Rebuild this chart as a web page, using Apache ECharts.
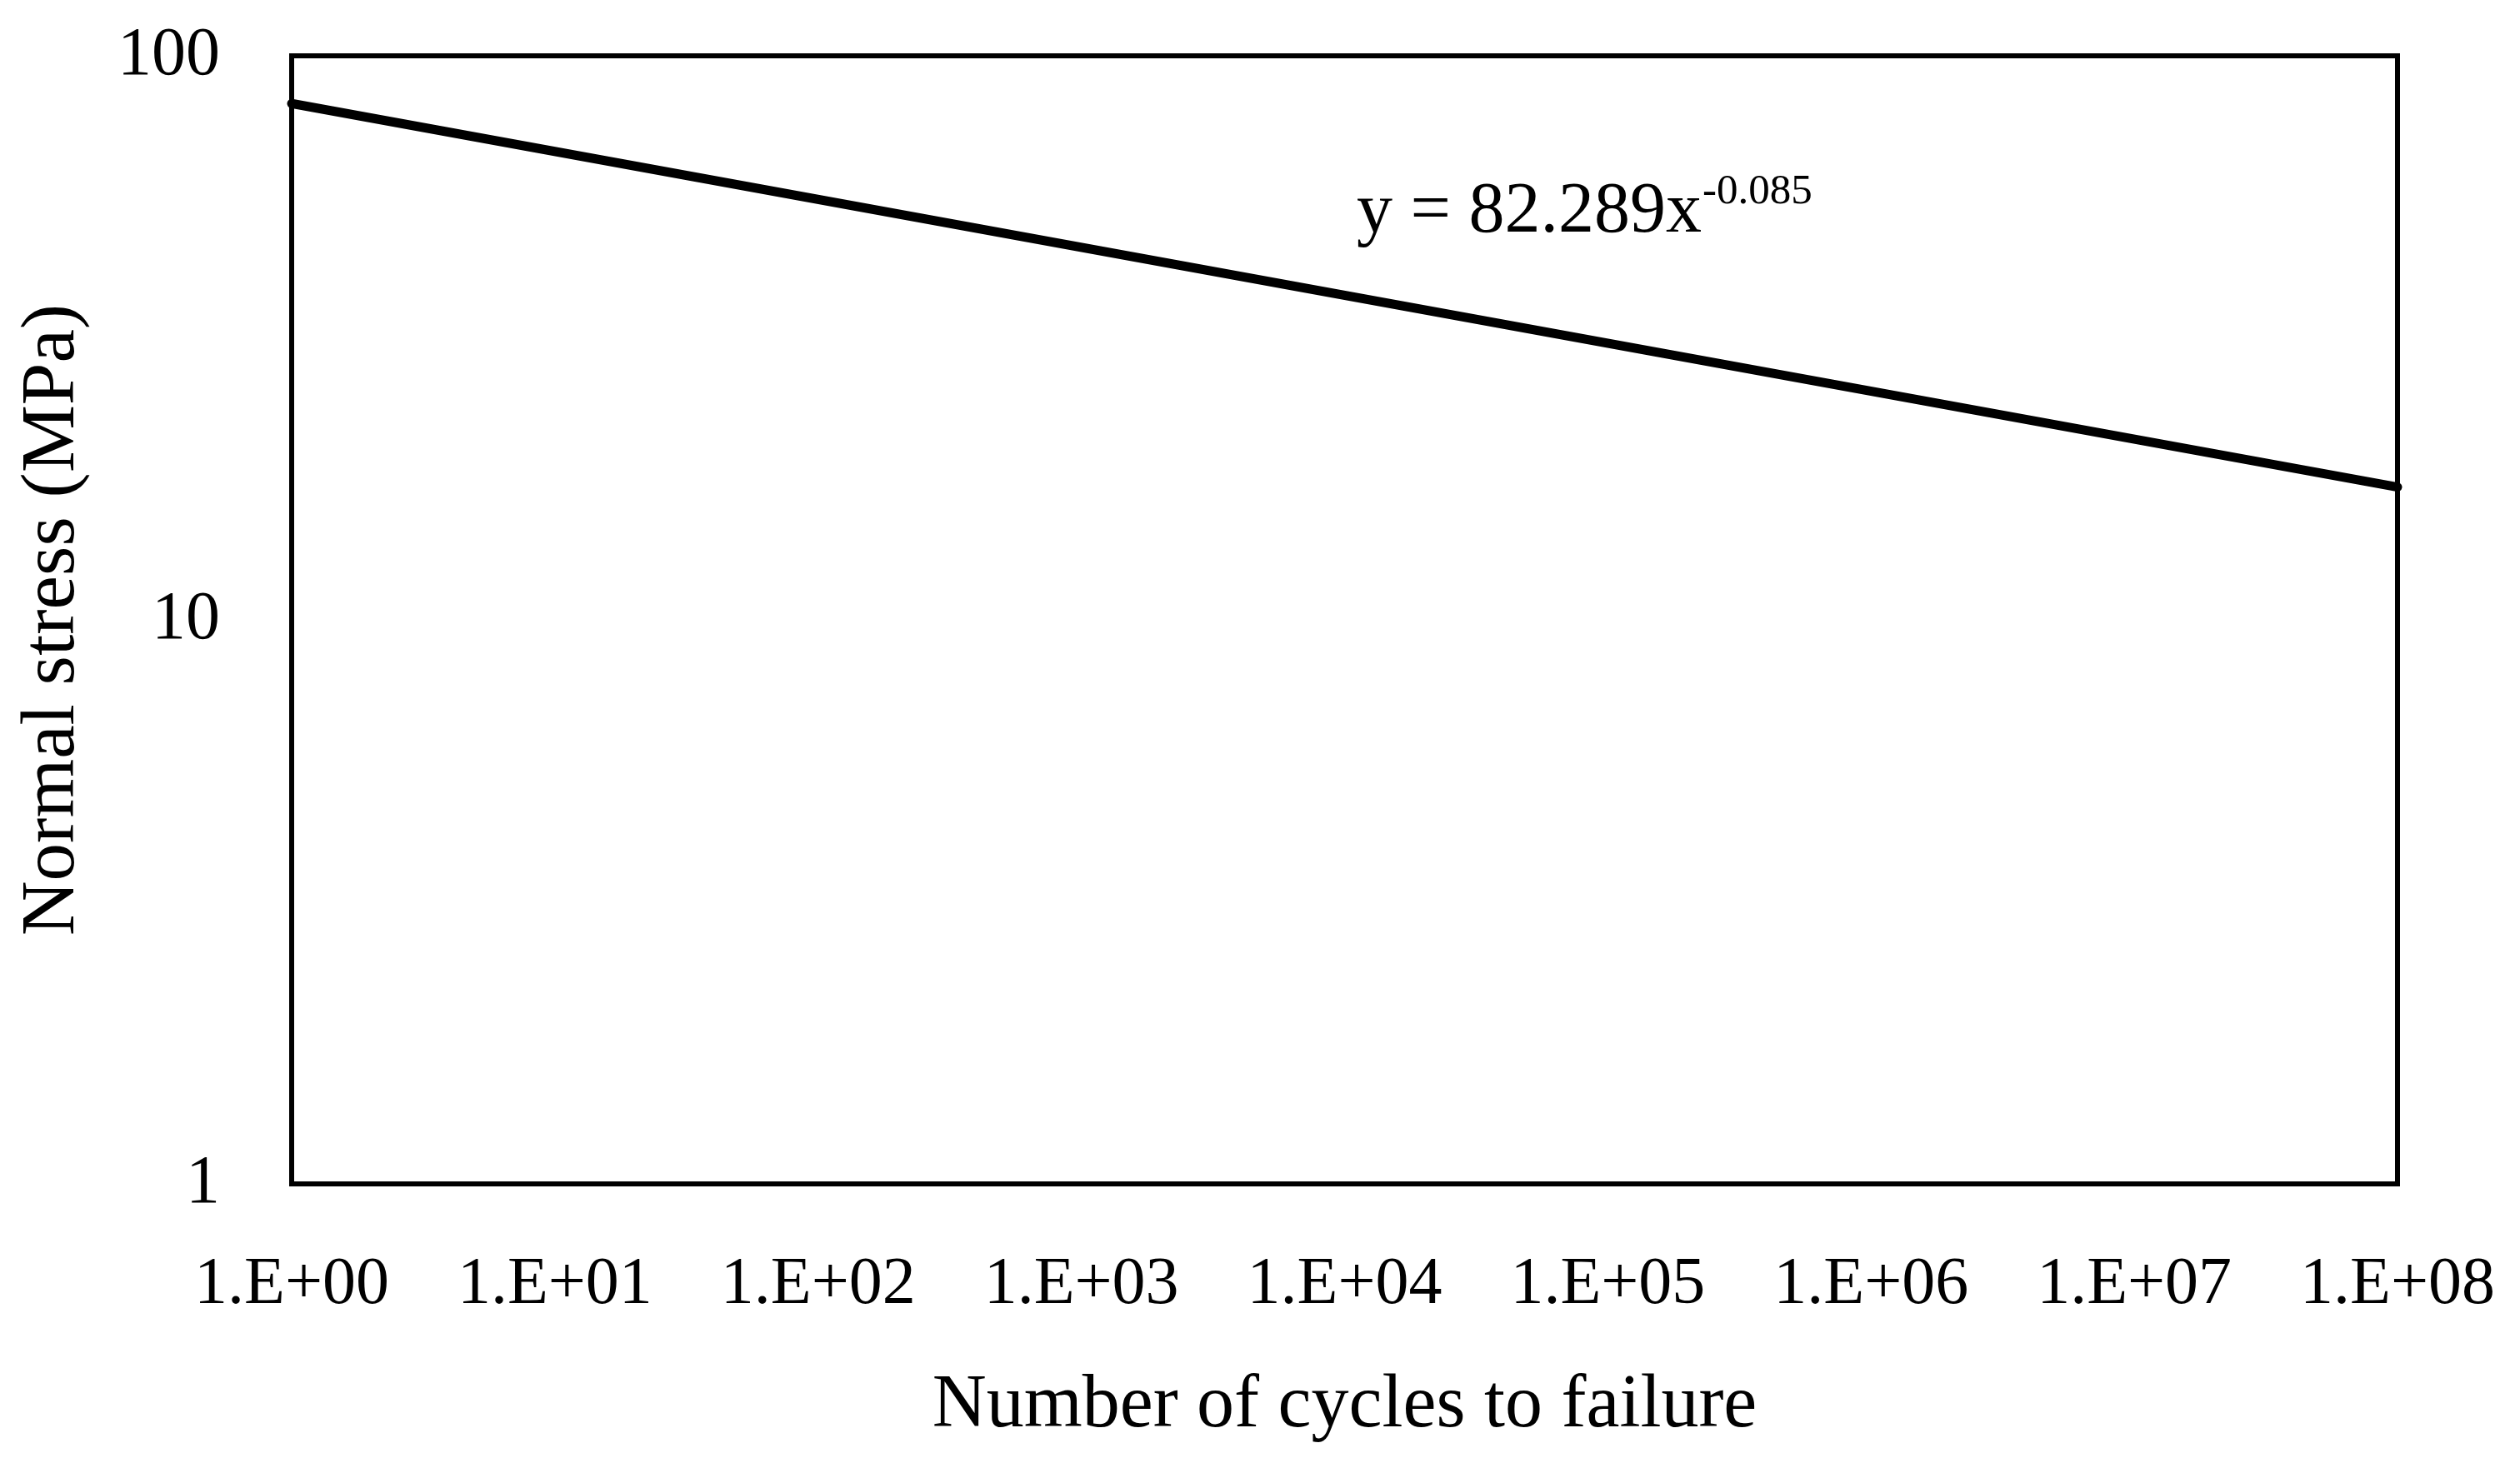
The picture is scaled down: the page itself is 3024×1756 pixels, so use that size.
<!DOCTYPE html>
<html>
<head>
<meta charset="utf-8">
<script src="https://cdn.jsdelivr.net/npm/echarts@6/dist/echarts.min.js"></script>
<style>
html,body{margin:0;padding:0;background:#fff;}
#chart{width:3024px;height:1756px;}
</style>
</head>
<body>
<div id="chart"></div>
<script>
// Trend line end points (cycles, MPa)
const cycles = [1, 1e8];
const stress = [82.3, 17.2];
const xTickExponents = [0, 1, 2, 3, 4, 5, 6, 7, 8];
const yTickLabels = [1, 10, 100];
const equationMain = 'y = 82.289x';
const equationExp = '-0.085';

const FONT = '"Liberation Serif", "Times New Roman", serif';

const chart = echarts.init(document.getElementById('chart'), null, {renderer: 'canvas'});
const option = {
  backgroundColor: '#ffffff',
  animation: false,
  grid: {
    left: 350, right: 147, top: 67, bottom: 335,
    show: true, borderColor: '#000', borderWidth: 6, backgroundColor: 'transparent'
  },
  xAxis: {
    type: 'log', logBase: 10, min: 1, max: 1e8,
    name: 'Number of cycles to failure',
    nameLocation: 'middle', nameGap: 222,
    nameTextStyle: {fontFamily: FONT, fontSize: 90, color: '#000'},
    axisLine: {show: true, lineStyle: {color: '#000', width: 6}},
    axisTick: {show: false},
    splitLine: {show: false},
    axisLabel: {
      fontFamily: FONT, fontSize: 80, color: '#000', margin: 82,
      showMinLabel: true, showMaxLabel: true,
      formatter: function (v) {
        const e = Math.round(Math.log10(v));
        if (xTickExponents.indexOf(e) < 0) return '';
        return '1.E+' + (e < 10 ? '0' + e : e);
      }
    }
  },
  yAxis: {
    type: 'log', logBase: 10, min: 1, max: 100,
    name: 'Normal stress (MPa)',
    nameLocation: 'middle', nameGap: 240,
    nameTextStyle: {fontFamily: FONT, fontSize: 91, color: '#000'},
    axisLine: {show: true, lineStyle: {color: '#000', width: 6}},
    axisTick: {show: false},
    splitLine: {show: false},
    axisLabel: {
      fontFamily: FONT, fontSize: 82, color: '#000', margin: 86,
      showMinLabel: true, showMaxLabel: true,
      formatter: function (v) {
        const r = Math.round(v);
        return yTickLabels.indexOf(r) >= 0 ? String(r) : '';
      }
    }
  },
  graphic: [
    {
      type: 'text', left: 1628, top: 212,
      style: {text: equationMain, font: '86px ' + FONT, fill: '#000'}
    },
    {
      type: 'text', left: 2043, top: 205,
      style: {text: equationExp, font: '51px ' + FONT, fill: '#000'}
    }
  ],
  series: [{
    type: 'line',
    data: cycles.map((c, i) => [c, stress[i]]),
    showSymbol: false,
    symbol: 'none',
    lineStyle: {color: '#000', width: 11, cap: 'round'},
    z: 3
  }]
};
chart.setOption(option);
</script>
</body>
</html>
